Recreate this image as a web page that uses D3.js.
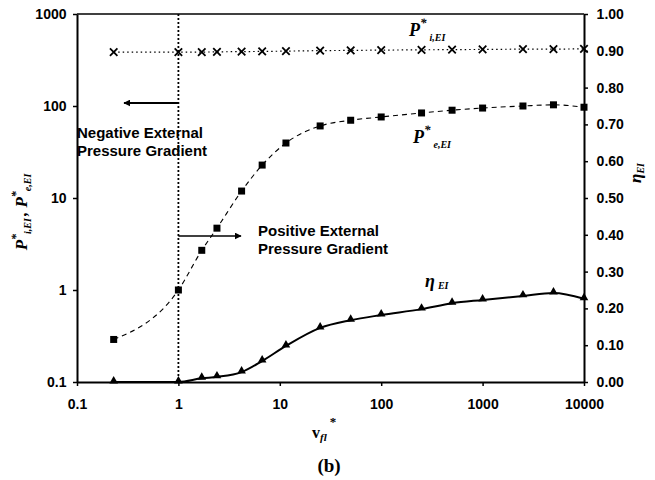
<!DOCTYPE html>
<html>
<head>
<meta charset="utf-8">
<script src="https://cdn.jsdelivr.net/npm/d3@7"></script>
<style>
  body { margin: 0; background: #fff; }
  text { font-family: "Liberation Sans", Arial, sans-serif; }
</style>
</head>
<body>
<div class="box"></div>
<script>
// data
const vfl = [0.23, 1, 1.7, 2.4, 4.2, 6.7, 11.5, 25, 50, 100, 250, 500, 1000, 2500, 5000, 10000];
const pInternal = [385, 385, 385, 388, 390, 392, 395, 400, 402, 405, 408, 410, 412, 415, 415, 418];
const pExternal = [0.29, 1, 2.7, 4.7, 11.9, 22.8, 39.6, 60.7, 70, 76, 84, 90, 95, 100, 103, 97];
const eta = [0.0, 0.0, 0.01, 0.014, 0.027, 0.057, 0.098, 0.147, 0.168, 0.182, 0.198, 0.214, 0.223, 0.234, 0.242, 0.226];
const xTicks = [0.1, 1, 10, 100, 1000, 10000];
const yTicks = [0.1, 1, 10, 100, 1000];
const y2Ticks = [0, 0.1, 0.2, 0.3, 0.4, 0.5, 0.6, 0.7, 0.8, 0.9, 1.0];

const W = 655, H = 480;
const m = {left: 77, right: 71, top: 14, bottom: 98};

const svg = d3.select('.box').append('svg')
  .attr('width', W)
  .attr('height', H);

const x = d3.scaleLog().domain([0.1, 10000]).range([m.left, W - m.right]);
const y = d3.scaleLog().domain([0.1, 1000]).range([H - m.bottom, m.top]);
const y2 = d3.scaleLinear().domain([0, 1]).range([H - m.bottom, m.top]);

// frame top
svg.append('line')
  .attr('x1', m.left).attr('x2', W - m.right)
  .attr('y1', m.top).attr('y2', m.top)
  .attr('stroke', '#000').attr('stroke-width', 1.5);

// axes
const fmt = d => d >= 1 ? d3.format('d')(d) : String(d);
const gx = svg.append('g')
  .attr('transform', `translate(0,${H - m.bottom})`)
  .call(d3.axisBottom(x).tickValues(xTicks).tickFormat(fmt).tickSize(4).tickSizeOuter(0));
const gy = svg.append('g')
  .attr('transform', `translate(${m.left},0)`)
  .call(d3.axisLeft(y).tickValues(yTicks).tickFormat(fmt).tickSize(4).tickSizeOuter(0));
const gy2 = svg.append('g')
  .attr('transform', `translate(${W - m.right},0)`)
  .call(d3.axisRight(y2).tickValues(y2Ticks).tickFormat(d3.format('.2f')).tickSize(4).tickSizeOuter(0));

[gx, gy, gy2].forEach(g => {
  g.select('.domain').attr('stroke-width', 2);
  g.selectAll('.tick line').attr('stroke-width', 1.5);
  g.selectAll('text')
    .attr('font-size', 14)
    .attr('font-weight', 'bold')
    .attr('fill', '#000');
});
gx.selectAll('text').attr('dy', '1.45em');
gy.selectAll('text').attr('dx', '-0.25em');
gy2.selectAll('text').attr('dx', '0.4em');

// vertical dotted line at v = 1
svg.append('line')
  .attr('x1', x(1)).attr('x2', x(1))
  .attr('y1', m.top).attr('y2', H - m.bottom)
  .attr('stroke', '#000').attr('stroke-width', 1.8)
  .attr('stroke-dasharray', '2,2');

// lines
const lineI = d3.line().x((d, i) => x(vfl[i])).y(d => y(d));
const lineE = d3.line().curve(d3.curveMonotoneX).x((d, i) => x(vfl[i])).y(d => y(d));
const lineEta = d3.line().curve(d3.curveMonotoneX).x((d, i) => x(vfl[i])).y(d => y2(d));

svg.append('path').datum(pInternal)
  .attr('d', lineI).attr('fill', 'none')
  .attr('stroke', '#000').attr('stroke-width', 1.2)
  .attr('stroke-dasharray', '1.5,3');
svg.append('path').datum(pExternal)
  .attr('d', lineE).attr('fill', 'none')
  .attr('stroke', '#000').attr('stroke-width', 1.1)
  .attr('stroke-dasharray', '5,4');
svg.append('path').datum(eta)
  .attr('d', lineEta).attr('fill', 'none')
  .attr('stroke', '#000').attr('stroke-width', 2);

// markers
const crossSym = d3.symbol().type(d3.symbolTimes).size(38);
svg.append('g').selectAll('path').data(pInternal).join('path')
  .attr('d', crossSym)
  .attr('transform', (d, i) => `translate(${x(vfl[i])},${y(d)})`)
  .attr('fill', 'none').attr('stroke', '#000').attr('stroke-width', 1.8);

svg.append('g').selectAll('rect').data(pExternal).join('rect')
  .attr('x', (d, i) => x(vfl[i]) - 3.5)
  .attr('y', d => y(d) - 3.5)
  .attr('width', 7).attr('height', 7)
  .attr('fill', '#000');

const triSym = d3.symbol().type(d3.symbolTriangle).size(32);
svg.append('g').selectAll('path').data(eta).join('path')
  .attr('d', triSym)
  .attr('transform', (d, i) => `translate(${x(vfl[i])},${y2(d) - 1})`)
  .attr('fill', '#000');

// arrows
const defs = svg.append('defs');
defs.append('marker')
  .attr('id', 'arr')
  .attr('viewBox', '0 0 10 10')
  .attr('refX', 9).attr('refY', 5)
  .attr('markerWidth', 7).attr('markerHeight', 7)
  .attr('markerUnits', 'userSpaceOnUse')
  .attr('orient', 'auto')
  .append('path').attr('d', 'M0,0 L10,5 L0,10 Z').attr('fill', '#000');

svg.append('line')
  .attr('x1', x(1)).attr('x2', 124)
  .attr('y1', 103).attr('y2', 103)
  .attr('stroke', '#000').attr('stroke-width', 2)
  .attr('marker-end', 'url(#arr)');
svg.append('line')
  .attr('x1', x(1)).attr('x2', 241)
  .attr('y1', 236).attr('y2', 236)
  .attr('stroke', '#000').attr('stroke-width', 1.5)
  .attr('marker-end', 'url(#arr)');

// region notes
const note = (tx, ty, lines) => {
  const t = svg.append('text')
    .attr('x', tx).attr('y', ty)
    .attr('font-size', 15).attr('font-weight', 'bold');
  lines.forEach((s, i) => t.append('tspan').attr('x', tx).attr('dy', i ? 18 : 0).text(s));
};
note(77, 138, ['Negative External', 'Pressure Gradient']);
note(258, 236, ['Positive External', 'Pressure Gradient']);

// series labels (bold italic serif)
const serif = '"Liberation Serif", "Times New Roman", serif';
const seriesLabel = (tx, ty, main, sub) => {
  const t = svg.append('text')
    .attr('x', tx).attr('y', ty)
    .style('font-family', serif)
    .attr('font-weight', 'bold').attr('font-style', 'italic')
    .attr('font-size', 18);
  t.append('tspan').text(main);
  t.append('tspan').attr('font-size', 13).attr('dy', -9).text('*');
  t.append('tspan').attr('font-size', 10).attr('dy', 14).attr('dx', 3).text(sub);
};
seriesLabel(409, 36, 'P', 'i,EI');
seriesLabel(413, 143, 'P', 'e,EI');

svg.append('text')
  .attr('x', 425).attr('y', 287)
  .style('font-family', serif)
  .attr('font-weight', 'bold').attr('font-style', 'italic')
  .attr('font-size', 18)
  .call(t => {
    t.append('tspan').text('η');
    t.append('tspan').attr('font-size', 10).attr('dx', 3).attr('dy', 2).text('EI');
  });

// axis titles
const yl = svg.append('text')
  .attr('transform', 'translate(27,212) rotate(-90)')
  .attr('text-anchor', 'middle')
  .style('font-family', serif)
  .attr('font-weight', 'bold').attr('font-style', 'italic')
  .attr('font-size', 17);
yl.append('tspan').text('P');
yl.append('tspan').attr('font-size', 12).attr('dy', -7).text('*');
yl.append('tspan').attr('font-size', 10).attr('dy', 11).text('i,EI');
yl.append('tspan').attr('dy', -4).attr('dx', 2).text(', P');
yl.append('tspan').attr('font-size', 12).attr('dy', -7).text('*');
yl.append('tspan').attr('font-size', 10).attr('dy', 11).text('e,EI');

const y2l = svg.append('text')
  .attr('transform', 'translate(641,173) rotate(-90)')
  .attr('text-anchor', 'middle')
  .style('font-family', serif)
  .attr('font-weight', 'bold').attr('font-style', 'italic')
  .attr('font-size', 17);
y2l.append('tspan').text('η');
y2l.append('tspan').attr('font-size', 10).attr('dy', 3).text('EI');

const xl = svg.append('text')
  .attr('x', 312).attr('y', 438)
  .style('font-family', serif)
  .attr('font-weight', 'bold')
  .attr('font-size', 16);
xl.append('tspan').text('v');
xl.append('tspan').attr('font-size', 11).attr('dy', 3).attr('font-style', 'italic').text('fl');
xl.append('tspan').attr('font-size', 13).attr('dy', -15).attr('dx', 3).text('*');

svg.append('text')
  .attr('x', 329).attr('y', 472)
  .attr('text-anchor', 'middle')
  .style('font-family', serif)
  .attr('font-weight', 'bold')
  .attr('font-size', 19)
  .text('(b)');
</script>
</body>
</html>
